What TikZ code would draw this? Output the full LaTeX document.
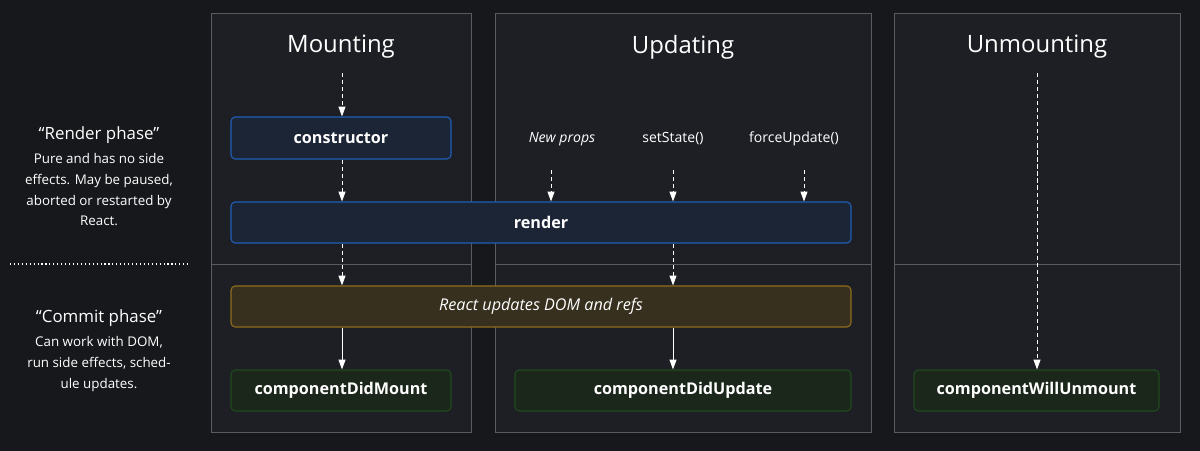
\documentclass[tikz,border=0pt]{standalone}
\usepackage{fontspec}
\setmainfont{Open Sans}
\usetikzlibrary{positioning, arrows.meta}

\definecolor{bgdark}{HTML}{17181C}
\definecolor{panelbg}{HTML}{1E1F24}
\definecolor{panelline}{HTML}{5A5B60}
\definecolor{bluefill}{HTML}{1B2536}
\definecolor{blueline}{HTML}{1F5FB8}
\definecolor{yellowfill}{HTML}{37301F}
\definecolor{yellowline}{HTML}{8E6C1C}
\definecolor{greenfill}{HTML}{1C271C}
\definecolor{greenline}{HTML}{1F4A1F}

\tikzset{
    panel/.style={draw=panelline, fill=panelbg, line width=0.6pt},
    phasebox/.style={rounded corners=3pt, line width=0.8pt, text=white, font=\bfseries\fontsize{11.5}{13}\selectfont},
    bluebox/.style={phasebox, draw=blueline, fill=bluefill},
    yellowbox/.style={phasebox, draw=yellowline, fill=yellowfill, font=\itshape\fontsize{11.5}{13}\selectfont},
    greenbox/.style={phasebox, draw=greenline, fill=greenfill},
    title/.style={text=white, font=\fontsize{17}{20}\selectfont},
    cue/.style={text=white, font=\fontsize{10}{12}\selectfont},
    sidetext/.style={text=white, align=center, font=\fontsize{9.5}{14.8}\selectfont},
    dasharrow/.style={draw=white, densely dashed, line width=0.6pt, -{Triangle[width=5pt,length=7pt]}},
    solidarrow/.style={draw=white, line width=0.7pt, -{Triangle[width=5pt,length=7pt]}},
}

\begin{document}
\begin{tikzpicture}[x=0.025cm, y=-0.025cm]
    \fill[bgdark] (0, 0) rectangle (1200, 451);

    % panels
    \draw[panel] (211, 13) rectangle (471, 432);
    \draw[panel] (495, 13) rectangle (871, 432);
    \draw[panel] (894, 13) rectangle (1180, 432);
    \draw[panelline, line width=0.6pt] (211, 264) -- (471, 264);
    \draw[panelline, line width=0.6pt] (495, 264) -- (871, 264);
    \draw[panelline, line width=0.6pt] (894, 264) -- (1180, 264);

    % titles
    \node[title] (mounting) at (341, 47) {Mounting};
    \node[title] (updating) at (683, 47) {Updating};
    \node[title] (unmounting) at (1037, 47) {Unmounting};

    % boxes
    \node[bluebox, minimum width=220*0.025cm, minimum height=42*0.025cm] (constructor) at (341, 138) {constructor};
    \node[bluebox, minimum width=620*0.025cm, minimum height=41*0.025cm] (render) at (541, 222.5) {render};
    \node[yellowbox, minimum width=620*0.025cm, minimum height=41*0.025cm] (domupdate) at (541, 306.5) {React updates DOM and refs};
    \node[greenbox, minimum width=220*0.025cm, minimum height=41*0.025cm] (didmount) at (341, 390.5) {componentDidMount};
    \node[greenbox, minimum width=336*0.025cm, minimum height=41*0.025cm] (didupdate) at (683, 390.5) {componentDidUpdate};
    \node[greenbox, minimum width=245*0.025cm, minimum height=41*0.025cm] (willunmount) at (1036.5, 390.5) {componentWillUnmount};

    % update triggers
    \node[cue, font=\itshape\fontsize{10}{12}\selectfont] (newprops) at (562, 139) {New props};
    \node[cue] (setstate) at (673, 139) {setState()};
    \node[cue] (forceupdate) at (794, 139) {forceUpdate()};

    \coordinate (mountstart) at (342, 73);
    \coordinate (unmountstart) at (1037, 73);
    \coordinate (propsend) at (551, 170);
    \coordinate (stateend) at (673, 170);
    \coordinate (forceend) at (804, 170);

    % arrows
    \draw[dasharrow] (mountstart) -- (constructor.north -| mountstart);
    \draw[dasharrow] (constructor.south -| mountstart) -- (render.north -| mountstart);
    \draw[dasharrow] (render.south -| mountstart) -- (domupdate.north -| mountstart);
    \draw[solidarrow] (domupdate.south -| mountstart) -- (didmount.north -| mountstart);
    \draw[dasharrow] (propsend) -- (render.north -| propsend);
    \draw[dasharrow] (stateend) -- (render.north -| stateend);
    \draw[dasharrow] (forceend) -- (render.north -| forceend);
    \draw[dasharrow] (render.south -| stateend) -- (domupdate.north -| stateend);
    \draw[solidarrow] (domupdate.south -| stateend) -- (didupdate.north -| stateend);
    \draw[dasharrow] (unmountstart) -- (willunmount.north -| unmountstart);

    % phase notes
    \node[text=white, font=\fontsize{12}{14}\selectfont] (renderphase) at (99, 135) {“Render phase”};
    \node[sidetext, below=0pt of renderphase] (rendernote) {Pure and has no side\\effects. May be paused,\\aborted or restarted by\\React.};
    \coordinate (sepleft) at (10, 264);
    \coordinate (sepright) at (188, 264);
    \draw[white, dotted, line width=0.8pt] (sepleft) -- (sepright);
    \node[text=white, font=\fontsize{12}{14}\selectfont] (commitphase) at (99, 318) {“Commit phase”};
    \node[sidetext, below=0pt of commitphase] (commitnote) {Can work with DOM,\\run side effects, sched-\\ule updates.};
\end{tikzpicture}
\end{document}
